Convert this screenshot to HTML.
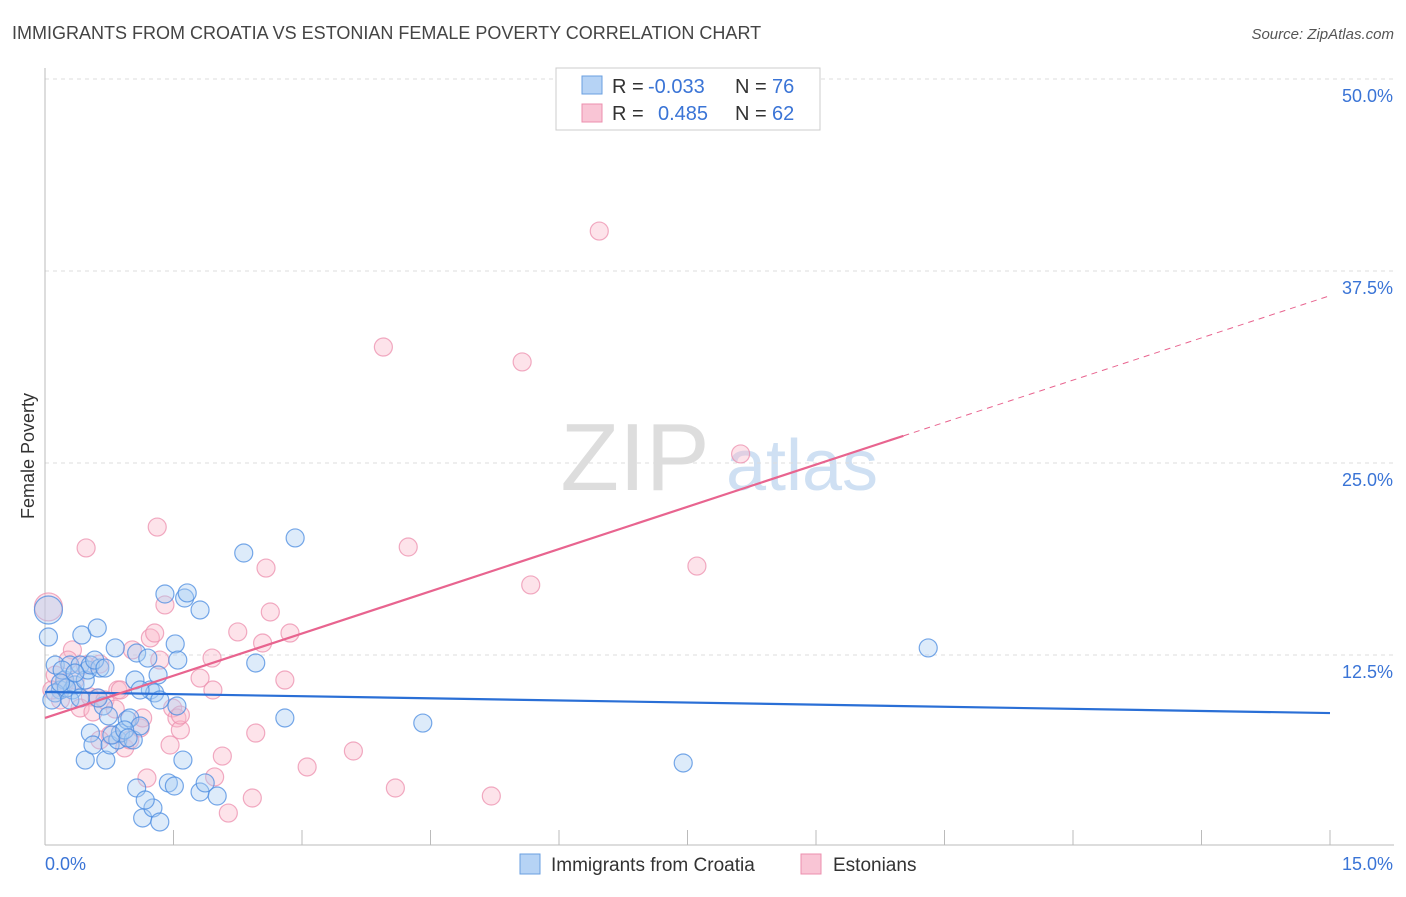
<!DOCTYPE html>
<html><head><meta charset="utf-8"><style>
body{margin:0;background:#fff;font-family:"Liberation Sans",sans-serif}
svg text{font-family:"Liberation Sans",sans-serif}
</style></head><body>
<svg id="chart" width="1406" height="892">
<text x="12" y="39" font-size="18" fill="#444">IMMIGRANTS FROM CROATIA VS ESTONIAN FEMALE POVERTY CORRELATION CHART</text>
<text x="1394" y="39" font-size="15" fill="#555" font-style="italic" text-anchor="end">Source: ZipAtlas.com</text>
<text transform="translate(34,456) rotate(-90)" font-size="18" fill="#333" text-anchor="middle">Female Poverty</text>
<g>
<text x="635" y="490" font-size="96" fill="#ddd" font-family="Liberation Serif" text-anchor="middle">ZIP</text>
<text x="802" y="490" font-size="72" fill="#cfe0f3" text-anchor="middle">atlas</text>
</g>
<g id="grid"></g>
<g id="marks"></g>
<g id="lines"></g>
<g>
<rect x="556" y="68" width="264" height="62" fill="#fff" stroke="#ccc"/>
<rect x="582" y="76" width="20" height="18" fill="#b6d3f5" stroke="#6a9fe0"/>
<rect x="582" y="104" width="20" height="18" fill="#f9c5d5" stroke="#ec8fae"/>
<text x="612" y="93" font-size="20" fill="#333">R =</text>
<text x="648" y="93" font-size="20" fill="#3a74d6">-0.033</text>
<text x="735" y="93" font-size="20" fill="#333">N =</text>
<text x="772" y="93" font-size="20" fill="#3a74d6">76</text>
<text x="612" y="120" font-size="20" fill="#333">R =</text>
<text x="658" y="120" font-size="20" fill="#3a74d6">0.485</text>
<text x="735" y="120" font-size="20" fill="#333">N =</text>
<text x="772" y="120" font-size="20" fill="#3a74d6">62</text>
</g>
<g>
<rect x="520" y="854" width="20" height="20" fill="#b6d3f5" stroke="#6a9fe0"/>
<text x="551" y="871" font-size="19" fill="#333">Immigrants from Croatia</text>
<rect x="801" y="854" width="20" height="20" fill="#f9c5d5" stroke="#ec8fae"/>
<text x="833" y="871" font-size="19" fill="#333">Estonians</text>
</g>
</svg>
<script>
const blueX=[.04,.04,.12,.18,.23,.29,.32,.35,.41,.43,.47,.50,.53,.61,.64,.58,.12,.20,.25,.47,.53,.56,.68,.71,.74,.76,.82,.85,.88,.96,.99,1.03,1.05,1.07,1.11,1.07,1.14,1.20,1.23,1.26,1.28,1.32,1.34,1.40,1.44,1.51,1.52,1.54,1.55,1.61,1.63,1.66,1.81,1.81,1.87,2.01,2.32,2.46,2.80,2.92,4.41,7.45,10.31,.18,.35,.70,.78,.93,1.17,.97,.62,.29,.41,.08,1.11,1.34];
const blueY=[15.43,13.67,11.85,10.22,10.87,11.85,10.22,10.55,11.85,13.80,10.87,11.52,11.85,14.26,11.65,12.17,10.03,11.52,10.35,5.66,7.42,6.64,9.18,5.66,8.53,6.64,12.96,6.97,7.42,8.27,8.40,6.97,10.87,12.63,7.88,3.84,1.89,12.30,10.22,2.54,10.03,11.20,1.63,16.47,4.17,3.97,13.22,9.18,12.17,5.66,16.21,16.54,15.43,3.58,4.17,3.32,19.14,11.98,8.40,20.12,8.07,5.47,12.96,10.68,11.33,11.65,7.29,7.62,3.06,7.10,9.70,9.57,9.70,9.57,10.22,9.57];
const pinkX=[.04,.12,.18,.23,.32,.35,.41,.48,.53,.56,.61,.64,.70,.76,.82,.85,.88,.93,.99,1.11,1.14,1.19,1.23,1.28,1.31,1.34,1.40,1.46,1.49,1.54,1.58,1.81,1.95,1.96,1.98,2.07,2.14,2.25,2.42,2.46,2.54,2.58,2.63,2.80,2.86,3.06,3.60,3.95,4.09,4.24,5.21,5.57,5.67,6.47,7.61,8.12,.08,.27,.64,1.02,1.58,.47];
const pinkY=[15.63,11.20,9.57,10.68,12.83,10.87,9.05,19.47,9.77,8.79,9.70,11.91,9.57,7.29,8.98,10.22,10.22,6.45,6.97,7.75,8.40,4.49,13.61,13.93,20.83,12.17,15.76,6.64,9.05,8.40,7.62,11.00,12.30,10.22,4.56,5.92,2.21,14.00,3.19,7.42,13.28,18.16,15.30,10.87,13.93,5.21,6.25,32.55,3.84,19.53,3.32,31.58,17.06,40.10,18.29,25.59,10.22,12.17,6.97,12.83,8.59,11.85];
const yTicks=[12.5,25.0,37.5,50.0];
const xTickVals=[0,1.5,3,4.5,6,7.5,9,10.5,12,13.5,15];
const blueTrend=[10.09,8.72]; // y at x=0, x=15
const pinkTrend=[8.40,1.833]; // intercept, slope
const pinkSolidEnd=10.02;
const NS='http://www.w3.org/2000/svg';
const X=v=>45+v/15*1285;
const Y=v=>847-v/12.5*192;
function mk(p,t,a){const e=document.createElementNS(NS,t);for(const k in a)e.setAttribute(k,a[k]);p.appendChild(e);return e;}
const grid=document.getElementById('grid'),marks=document.getElementById('marks'),lines=document.getElementById('lines');
yTicks.forEach(v=>{
 const l=mk(grid,'line',{x1:45,x2:1394,y1:Y(v),y2:Y(v),stroke:'#ddd','stroke-dasharray':'4,4'});
 
 
 const t=mk(grid,'text',{x:1393,y:Y(v)+23,'font-size':18,fill:'#3a74d6','text-anchor':'end'});
 t.textContent=v.toFixed(1)+'%';
 
 
});
const ax=mk(grid,'line',{x1:45,x2:45,y1:68,y2:845,stroke:'#bbb'});


const bx=mk(grid,'line',{x1:45,x2:1394,y1:845,y2:845,stroke:'#bbb'});


xTickVals.forEach(v=>{
 const t=mk(grid,'line',{x1:X(v),x2:X(v),y1:830,y2:845,stroke:'#bbb'});
 
 
});
[[0,'start',45],[15,'end',1393]].forEach(([v,a,x])=>{
 const t=mk(grid,'text',{x:x,y:870,'font-size':18,fill:'#3a74d6','text-anchor':a});
 t.textContent=v.toFixed(1)+'%';
 
 
});
function dots(xs,ys,fill,stroke,name){
 xs.forEach((x,i)=>{
  const big=x<0.06&&ys[i]>15;
  const c=mk(marks,'circle',{cx:X(x),cy:Y(ys[i]),r:big?14:9,fill:fill,'fill-opacity':0.4,stroke:stroke,'stroke-opacity':0.75,'stroke-width':1.2});
  
  
 });
}
dots(pinkX,pinkY,'#f9b8cb','#ec8fae','point-estonians');
dots(blueX,blueY,'#a9ccf3','#4a8be0','point-croatia');
const bl=mk(lines,'line',{x1:X(0),y1:Y(blueTrend[0]),x2:X(15),y2:Y(blueTrend[1]),stroke:'#2a6fd6','stroke-width':2.2});


const pl=mk(lines,'line',{x1:X(0),y1:Y(pinkTrend[0]),x2:X(pinkSolidEnd),y2:Y(pinkTrend[0]+pinkTrend[1]*pinkSolidEnd),stroke:'#e8648f','stroke-width':2.2});


const pd=mk(lines,'line',{x1:X(pinkSolidEnd),y1:Y(pinkTrend[0]+pinkTrend[1]*pinkSolidEnd),x2:X(15),y2:Y(pinkTrend[0]+pinkTrend[1]*15),stroke:'#e8648f','stroke-width':1,'stroke-dasharray':'6,5'});


</script>
</body></html>
